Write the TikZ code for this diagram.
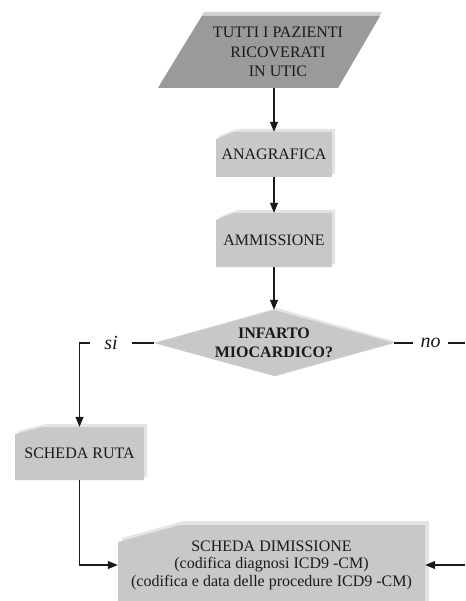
\documentclass[tikz,border=0pt]{standalone}
\usepackage{fontspec}
\setmainfont{Liberation Serif}
\usetikzlibrary{arrows.meta}
\definecolor{boxmain}{HTML}{C8C8C8}
\definecolor{boxlight}{HTML}{E4E4E4}
\definecolor{pardark}{HTML}{9A9A9A}
\definecolor{parlight}{HTML}{D2D2D2}
\definecolor{txt}{HTML}{1A1A1A}
\newcommand\mycard[7]{% x1 y1 x2 y2 cutdx cutdy bevel
  \fill[boxlight] (#1+#7,#2+#6-#7) -- (#1+#5+#7,#2-#7) -- (#3+#7,#2-#7) -- (#3+#7,#4-#7) -- (#1+#7,#4-#7) -- cycle;
  \fill[boxmain] (#1,#2+#6) -- (#1+#5,#2) -- (#3,#2) -- (#3,#4) -- (#1,#4) -- cycle;
}
\begin{document}
\begin{tikzpicture}[x=1pt,y=-1pt,
  holder/.style={inner sep=0pt, align=center, text=txt, font=\fontsize{16}{19}\selectfont},
  arr/.style={line width=1.1pt, draw=txt, -{Triangle[length=10pt,width=8pt]}},
  ln/.style={line width=1.1pt, draw=txt},
  yn/.style={inner sep=0pt, text=txt, font=\fontsize{20}{22}\selectfont\itshape, minimum height=14pt},
]
\useasboundingbox (0,0) rectangle (465,601);

% parallelogram
\fill[parlight] (204,12) -- (382,12) -- (340,84) -- (160,84) -- cycle;
\fill[pardark] (202,16) -- (380,16) -- (338,88) -- (158,88) -- cycle;
\node[holder, minimum height=72pt, font=\fontsize{16}{19.5}\selectfont] (par) at (278,52) {TUTTI I PAZIENTI\\RICOVERATI\\IN UTIC};

% cards
\mycard{216}{132}{332}{177}{18}{7}{3}
\node[holder, minimum width=116pt, minimum height=45pt] (ana) at (274,154.5) {ANAGRAFICA};

\mycard{216}{213}{332}{267}{18}{7}{3}
\node[holder, minimum width=116pt, minimum height=54pt] (amm) at (274,240) {AMMISSIONE};

% diamond
\fill[boxlight] (157,342) -- (277,308) -- (397,342) -- (277,376) -- cycle;
\fill[boxmain] (154,343) -- (274,310) -- (394,343) -- (274,376) -- cycle;
\node[holder, minimum width=240pt, minimum height=66pt, font=\fontsize{16}{18.5}\selectfont\bfseries] (dia) at (274,343) {INFARTO\\MIOCARDICO?};

\mycard{15}{427}{144}{480}{28}{7}{3}
\node[holder, minimum width=129pt, minimum height=53pt] (ruta) at (79.5,453.5) {SCHEDA RUTA};

\mycard{118}{525}{425}{610}{62}{17}{4}
\node[holder, minimum width=307pt, minimum height=70pt, font=\fontsize{16}{17.5}\selectfont] (dim) at (271.5,565) {SCHEDA DIMISSIONE\\(codifica diagnosi ICD9 -CM)\\(codifica e data delle procedure ICD9 -CM)};

% labels
\node[yn, minimum width=42pt] (si) at (111,343) {si};
\node[yn, minimum width=35pt] (no) at (430.5,343) {no};
\coordinate (rout) at (465,343);
\coordinate (rin) at (465,565);

% connectors
\draw[arr] (ana.north |- par.south) -- (ana.north);
\draw[arr] (ana.south) -- (amm.north);
\draw[arr] (amm.south) -- (dia.north);
\draw[ln] (dia.west) -- (si.east);
\draw[arr] (si.west) -- (si.west -| ruta.north) -- (ruta.north);
\draw[ln] (dia.east) -- (no.west);
\draw[ln] (no.east) -- (rout);
\draw[arr] (ruta.south) -- (ruta.south |- dim.west) -- (dim.west);
\draw[arr] (rin) -- (dim.east);
\end{tikzpicture}
\end{document}
